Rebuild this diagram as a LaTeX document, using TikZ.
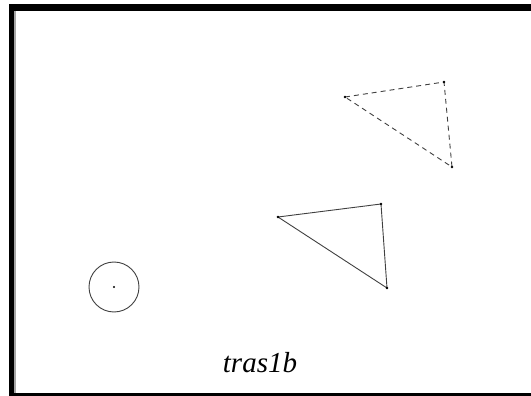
\documentclass[tikz,border=0pt]{standalone}
\usepackage{fontspec}
\setmainfont{Liberation Serif}
\usetikzlibrary{positioning}

\begin{document}
\begin{tikzpicture}[
                x=1pt, y=-1pt,
                % Shape Styles
                frameBand/.style = {fill=black, draw=none},
                shapeLine/.style = {line width=0.9pt, draw=black!75},
                dashLine/.style = {shapeLine, dash pattern=on 5pt off 4pt},
                vertexDot/.style = {circle, fill=black, inner sep=0pt, minimum size=2.6pt},
                % Label Style
                captionText/.style = {font=\fontsize{29}{32}\selectfont\itshape, anchor=base}
            ]
                \useasboundingbox (0,0) rectangle (531,396);

                % ==========================================
                % FRAME
                % ==========================================
                \fill[frameBand] (9,4) rectangle (531,11);
                \fill[frameBand] (9,4) rectangle (14,396);
                \fill[black!35] (14,11) rectangle (16,393);
                \fill[frameBand] (9,392.5) rectangle (531,396);

                % ==========================================
                % DASHED TRIANGLE (TOP)
                % ==========================================
                \coordinate (DA) at (345,97);
                \coordinate (DB) at (444,82);
                \coordinate (DC) at (452,167);
                \draw[dashLine] (DA) -- (DB) -- (DC) -- cycle;
                \foreach \v in {DA, DB, DC}
                    \node[vertexDot] at (\v) {};

                % ==========================================
                % SOLID TRIANGLE (MIDDLE)
                % ==========================================
                \coordinate (SA) at (278,217);
                \coordinate (SB) at (381,204);
                \coordinate (SC) at (387,288);
                \draw[shapeLine] (SA) -- (SB) -- (SC) -- cycle;
                \foreach \v in {SA, SB, SC}
                    \node[vertexDot] at (\v) {};

                % ==========================================
                % CIRCLE (LOWER LEFT)
                % ==========================================
                \coordinate (Ctr) at (114,287);
                \draw[shapeLine] (Ctr) circle[radius=25];
                \node[vertexDot, minimum size=2.2pt] (CtrDot) at (Ctr) {};

                % Caption
                \node[captionText] (Caption) at (260,372.5) {tras1b};

            \end{tikzpicture}
\end{document}
